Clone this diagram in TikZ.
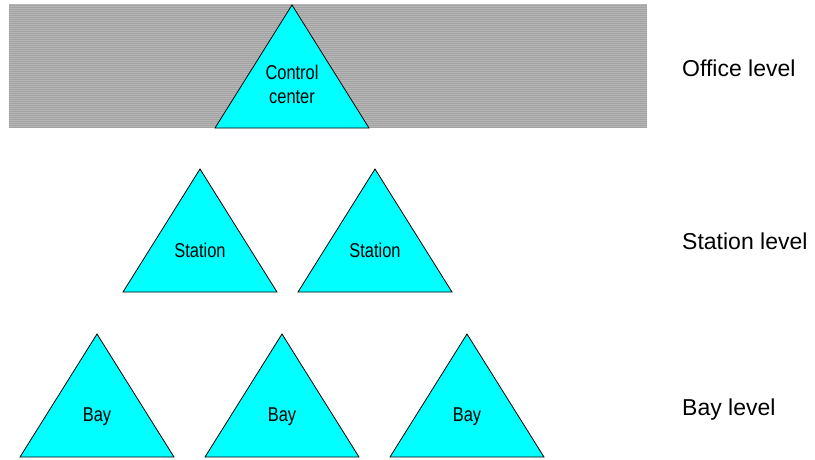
\documentclass[tikz,border=0pt]{standalone}
\usepackage{fontspec}
\setmainfont{Liberation Sans}
\newfontfamily\narrowsans[FakeStretch=0.82]{Liberation Sans}
\usetikzlibrary{positioning}
\definecolor{tricyan}{HTML}{00FFFF}
\definecolor{bandgray}{HTML}{B6B6B6}
\definecolor{stripegray}{HTML}{A2A2A2}

\tikzset{
  tri/.style={fill=tricyan, draw=black, line width=0.8pt, line join=miter},
  trilabel/.style={font=\narrowsans\fontsize{20}{24}\selectfont, inner sep=0pt, align=center},
  lvllabel/.style={font=\fontsize{23}{27}\selectfont, inner sep=0pt, anchor=base west}
}

\begin{document}
\begin{tikzpicture}[x=1pt, y=-1pt]
  \useasboundingbox (0,0) rectangle (815,459);

  % striped office band
  \fill[bandgray] (9,4) rectangle (647,128);
  \foreach \y in {5,7,...,127}
    \draw[stripegray, line width=0.8pt] (9,\y) -- (647,\y);

  % triangles: apex x / apex y
  \foreach \cx/\ty in {292/5, 200/169, 375/169, 97/334, 282/334, 467/334}
    \draw[tri] (\cx,\ty) -- ++(77,123) -- ++(-154,0) -- cycle;

  \node[trilabel] (ctrl) at (292,84.7) {Control\\center};
  \node[trilabel, anchor=base] (st1) at (200,257) {Station};
  \node[trilabel, anchor=base] (st2) at (375,257) {Station};
  \node[trilabel, anchor=base] (bay1) at (97,421.5) {Bay};
  \node[trilabel, anchor=base] (bay2) at (282,421.5) {Bay};
  \node[trilabel, anchor=base] (bay3) at (467,421.5) {Bay};

  % level names on the right
  \node[lvllabel] (office) at (682,76) {Office level};
  \node[lvllabel] (station) at (682,249) {Station level};
  \node[lvllabel] (bay) at (682,415) {Bay level};
\end{tikzpicture}
\end{document}
